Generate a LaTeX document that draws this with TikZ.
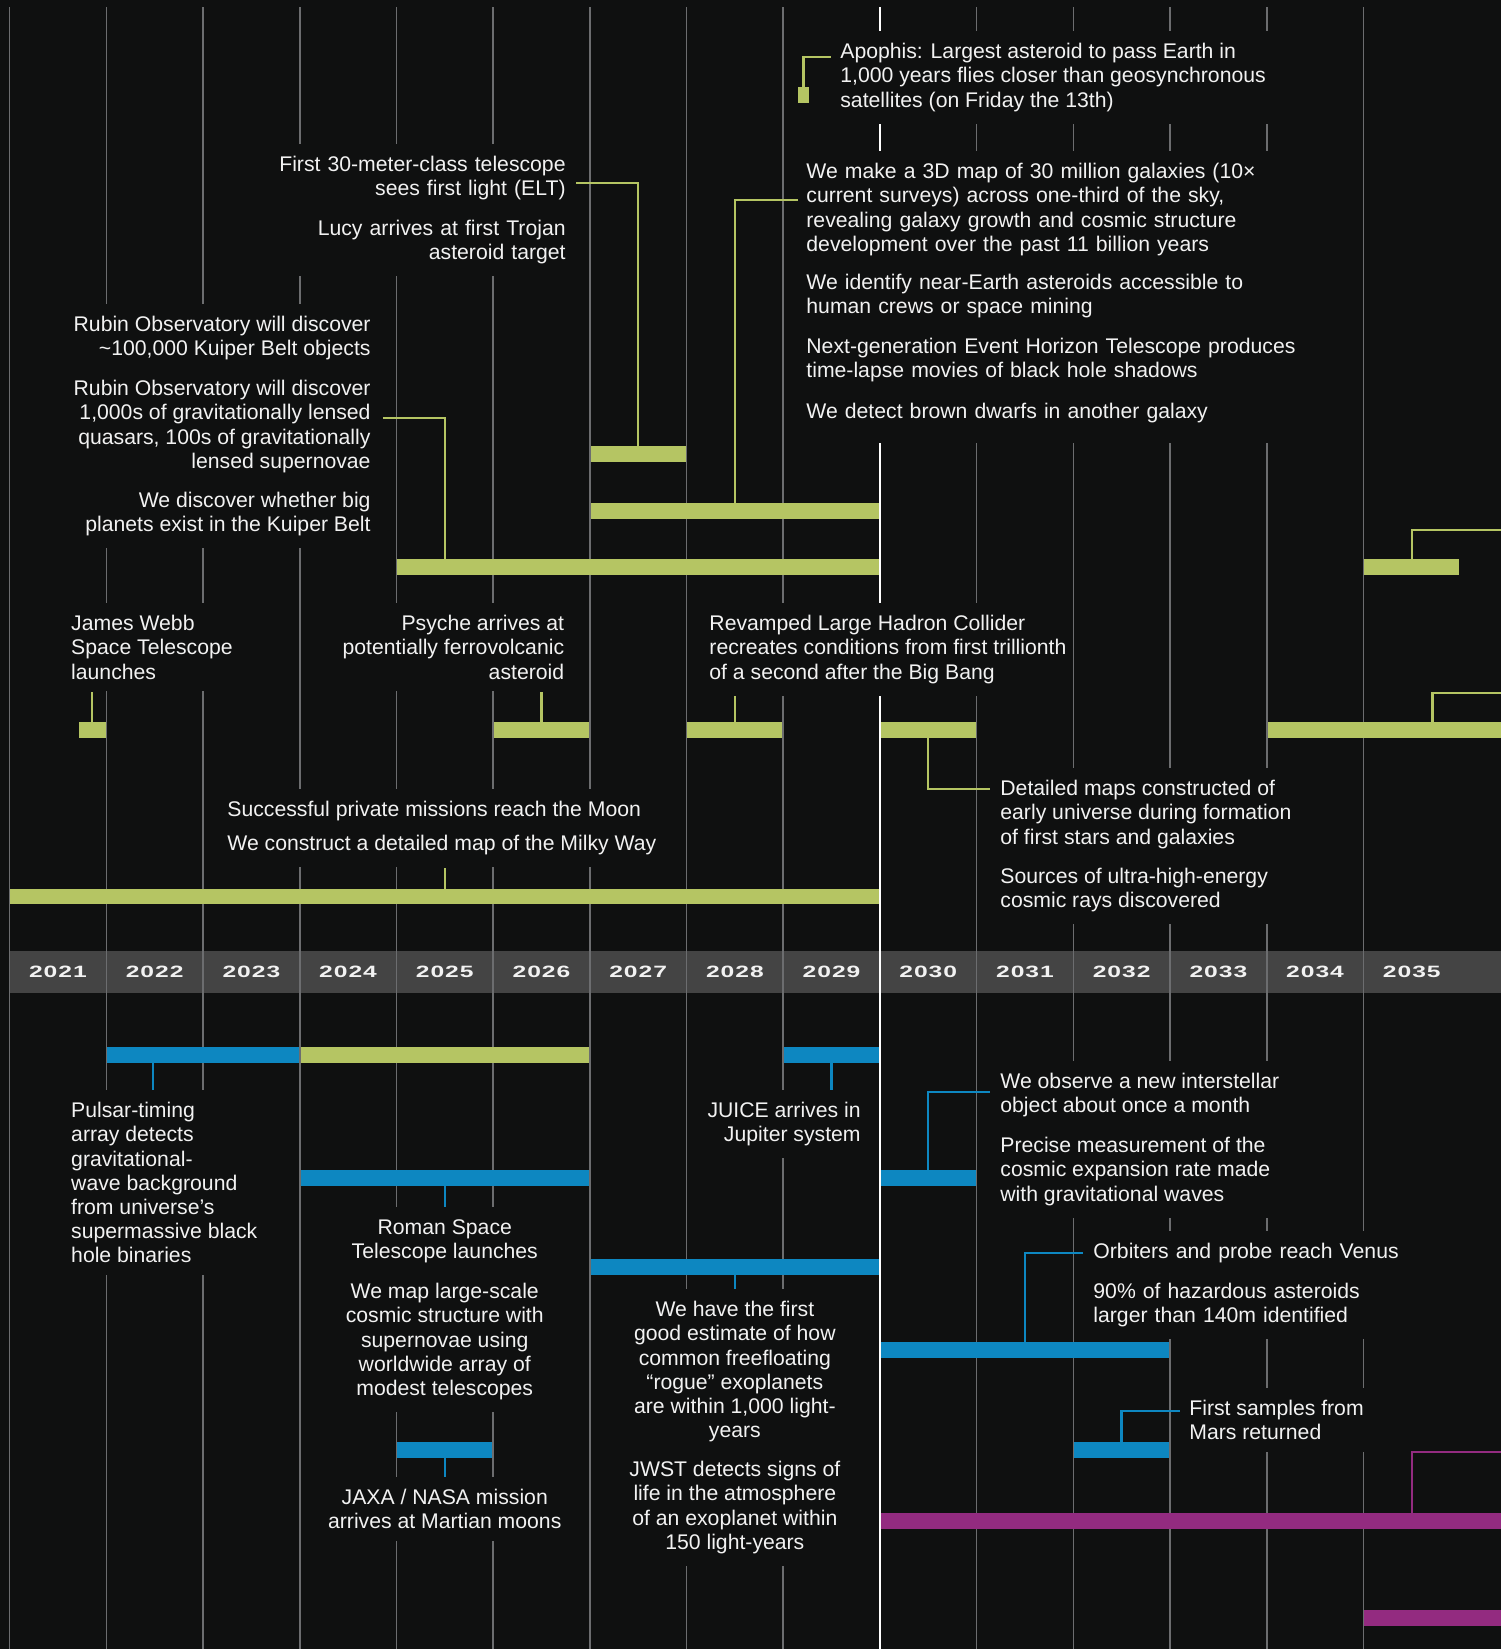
\documentclass[tikz,border=0pt]{standalone}
\usepackage{fontspec}
\setmainfont{Liberation Sans}
\newfontfamily\yearfont{Liberation Sans}[FakeStretch=1.5,LetterSpace=6]
\usepackage{tikz}
\usetikzlibrary{fit}

\definecolor{bgc}{HTML}{0F1010}
\definecolor{bandc}{HTML}{444444}
\definecolor{gridc}{HTML}{6C6D6F}
\definecolor{limec}{HTML}{B5C563}
\definecolor{bluec}{HTML}{0D87C1}
\definecolor{plumc}{HTML}{932B80}
\definecolor{inkc}{HTML}{F2F2F2}

\begin{document}
\begin{tikzpicture}[x=48.35pt,y=-0.5pt,
    txt/.style={font=\fontsize{10.6}{12.1}\selectfont, text=inkc, fill=bgc, inner xsep=3pt, inner ysep=6pt},
    yearline/.style={draw=gridc, line width=0.8pt},
    nowline/.style={draw=white, line width=1.2pt},
    yearlbl/.style={font=\yearfont\bfseries\fontsize{8.2}{10}\selectfont, text=inkc},
    lbar/.style={fill=limec, inner xsep=-0.4pt, inner ysep=0pt},
    bbar/.style={fill=bluec, inner xsep=-0.4pt, inner ysep=0pt},
    pbar/.style={fill=plumc, inner xsep=-0.4pt, inner ysep=0pt},
    glink/.style={draw=limec, line width=1.2pt},
    blink/.style={draw=bluec, line width=1.2pt},
    plink/.style={draw=plumc, line width=1.2pt},
]
\useasboundingbox[fill=bgc] (-0.0993,0) rectangle (15.4227,1649);
\fill[bandc] (0,951) rectangle (15.4227,993);
\foreach \i in {0,...,8,10,11,12,13,14}
    \draw[yearline] (\i,7) -- (\i,1649);
\draw[nowline] (9,7) -- (9,1649); % 2030 is the white one
\foreach \yr [count=\i from 0] in {2021,...,2035}
    \node[yearlbl] (y\yr) at (\i+0.5,972) {\yr};

% texts above the band (fill = bg so they cut the year lines)
\node[txt, anchor=north west, align=left] (apophis) at (8.525,31) {Apophis: Largest asteroid to pass Earth in\\1,000 years flies closer than geosynchronous\\satellites (on Friday the 13th)};
\node[txt, anchor=north east, align=right, text width=152pt] (elt) at (5.816,144) {First 30-meter-class telescope\\sees first light (ELT)};
\node[txt, anchor=north east, align=right, text width=152pt] (lucy) at (5.816,208) {Lucy arrives at first Trojan\\asteroid target};
\node[txt, anchor=north east, align=right] (kbo) at (3.799,304) {Rubin Observatory will discover\\\textasciitilde100,000 Kuiper Belt objects};
\node[txt, anchor=north east, align=right] (lensed) at (3.799,368) {Rubin Observatory will discover\\1,000s of gravitationally lensed\\quasars, 100s of gravitationally\\lensed supernovae};
\node[txt, anchor=north east, align=right] (planets) at (3.799,480) {We discover whether big\\planets exist in the Kuiper Belt};
\node[txt, anchor=north west, align=left, text width=256pt] (galmap) at (8.174,151) {We make a 3D map of 30 million galaxies (10×\\current surveys) across one-third of the sky,\\revealing galaxy growth and cosmic structure\\development over the past 11 billion years};
\node[txt, anchor=north west, align=left, text width=256pt] (nea) at (8.174,262) {We identify near-Earth asteroids accessible to\\human crews or space mining};
\node[txt, anchor=north west, align=left, text width=256pt] (eht) at (8.174,326) {Next-generation Event Horizon Telescope produces\\time-lapse movies of black hole shadows};
\node[txt, anchor=north west, align=left, text width=256pt, inner ysep=10pt] (dwarfs) at (8.174,383) {We detect brown dwarfs in another galaxy};
\node[txt, anchor=north west, align=left] (jwst) at (0.571,603) {James Webb\\Space Telescope\\launches};
\node[txt, anchor=north east, align=right] (psyche) at (5.801,603) {Psyche arrives at\\potentially ferrovolcanic\\asteroid};
\node[txt, anchor=north west, align=left] (lhc) at (7.171,603) {Revamped Large Hadron Collider\\recreates conditions from first trillionth\\of a second after the Big Bang};
\node[txt, anchor=north west, align=left] (early) at (10.180,768) {Detailed maps constructed of\\early universe during formation\\of first stars and galaxies};
\node[txt, anchor=north west, align=left] (uhecr) at (10.180,856) {Sources of ultra-high-energy\\cosmic rays discovered};
\node[txt, anchor=north west, align=left] (moon) at (2.186,789) {Successful private missions reach the Moon};
\node[txt, anchor=north west, align=left] (milky) at (2.186,823) {We construct a detailed map of the Milky Way};

% texts below the band
\node[txt, anchor=north west, align=left] (pulsar) at (0.571,1090) {Pulsar-timing\\array detects\\gravitational-\\wave background\\from universe’s\\supermassive black\\hole binaries};
\node[txt, anchor=north east, align=right] (juice) at (8.867,1090) {JUICE arrives in\\Jupiter system};
\node[txt, anchor=north west, align=left] (interstellar) at (10.180,1061) {We observe a new interstellar\\object about once a month};
\node[txt, anchor=north west, align=left] (hubble) at (10.180,1125) {Precise measurement of the\\cosmic expansion rate made\\with gravitational waves};
\node[txt, anchor=north, align=center] (roman) at (4.5,1207) {Roman Space\\Telescope launches};
\node[txt, anchor=north, align=center] (lss) at (4.5,1271) {We map large-scale\\cosmic structure with\\supernovae using\\worldwide array of\\modest telescopes};
\node[txt, anchor=north west, align=left, text width=158pt] (venus) at (11.142,1231) {Orbiters and probe reach Venus};
\node[txt, anchor=north west, align=left, text width=158pt] (neo) at (11.142,1271) {90\% of hazardous asteroids\\larger than 140m identified};
\node[txt, anchor=north, align=center] (rogue) at (7.5,1289) {We have the first\\good estimate of how\\common freefloating\\“rogue” exoplanets\\are within 1,000 light-\\years};
\node[txt, anchor=north, align=center] (biosig) at (7.5,1449) {JWST detects signs of\\life in the atmosphere\\of an exoplanet within\\150 light-years};
\node[txt, anchor=north west, align=left] (mars) at (12.134,1388) {First samples from\\Mars returned};
\node[txt, anchor=north, align=center] (jaxa) at (4.5,1477) {JAXA / NASA mission\\arrives at Martian moons};

% bars, x in years from 2021
\node[lbar, inner xsep=0pt, fit={(8.153,87) (8.267,103)}] (apbar) {};
\node[lbar, fit={(6,446) (7,462)}] (eltbar) {};
\node[lbar, fit={(6,503) (9,519)}] (galbar) {};
\node[lbar, fit={(4,559) (9,575)}] (rubinbar) {};
\node[lbar, fit={(14,559) (15,575)}] (lbar2035) {};
\node[lbar, fit={(0.707,722) (1,738)}] (jwstbar) {};
\node[lbar, fit={(5,722) (6,738)}] (psychebar) {};
\node[lbar, fit={(7,722) (8,738)}] (lhcbar) {};
\node[lbar, fit={(9,722) (10,738)}] (earlybar) {};
\node[lbar, fit={(13,722) (15.5,738)}] (lbar2034) {};
\node[lbar, fit={(0,889) (9,904)}] (milkybar) {};
\node[bbar, fit={(1,1047) (3,1063)}] (ptabar) {};
\node[lbar, fit={(3,1047) (6,1063)}] (lbar2024) {};
\node[bbar, fit={(8,1047) (9,1063)}] (juicebar) {};
\node[bbar, fit={(3,1170) (6,1186)}] (romanbar) {};
\node[bbar, fit={(9,1170) (10,1186)}] (gwbar) {};
\node[bbar, fit={(6,1259) (9,1275)}] (roguebar) {};
\node[bbar, fit={(9,1342) (12,1358)}] (venusbar) {};
\node[bbar, fit={(11,1442) (12,1458)}] (marsbar) {};
\node[bbar, fit={(4,1442) (5,1458)}] (jaxabar) {};
\node[pbar, fit={(9,1513) (15.5,1529)}] (pbar2030) {};
\node[pbar, fit={(14,1610) (15.5,1626)}] (pbar2035) {};

% off the page on the right
\coordinate (offr1) at (15.5,530);
\coordinate (offr2) at (15.5,693);
\coordinate (offr3) at (15.5,1452);
\coordinate (ptax) at (1.483,0);
\coordinate (cx2034) at (14.715,0);
\coordinate (cx2035) at (14.5,0);

% links bar <-> text
\draw[glink] (apbar.north) |- ([shift={(-1.5pt,-13pt)}]apophis.north west);
\draw[glink] ([shift={(2pt,-19.5pt)}]elt.north east) -| (eltbar.north);
\draw[glink] ([shift={(3pt,-25pt)}]lensed.north east) -| ([xshift=24pt]rubinbar.north west);
\draw[glink] ([shift={(-1pt,-24.5pt)}]galmap.north west) -| (galbar.north);
\draw[glink] (lbar2035.north) |- (offr1);
\draw[glink] (jwstbar.north) -- (jwstbar.north |- jwst.south);
\draw[glink] (psychebar.north) -- (psychebar.north |- psyche.south);
\draw[glink] (lhcbar.north) -- (lhcbar.north |- lhc.south);
\draw[glink] (earlybar.south) |- ([shift={(-2pt,-10.5pt)}]early.north west);
\draw[glink] (cx2034 |- lbar2034.north) |- (offr2);
\draw[glink] (milkybar.north) -- (milkybar.north |- milky.south);
\draw[blink] (ptax |- ptabar.south) -- (ptax |- pulsar.north);
\draw[blink] (juicebar.south) -- (juicebar.south |- juice.north);
\draw[blink] (romanbar.south) -- (roman.north);
\draw[blink] (gwbar.north) |- ([shift={(-2pt,-15.5pt)}]interstellar.north west);
\draw[blink] (roguebar.south) -- (rogue.north);
\draw[blink] (venusbar.north) |- ([shift={(-2pt,-11pt)}]venus.north west);
\draw[blink] (marsbar.north) |- ([shift={(-1.5pt,-11.5pt)}]mars.north west);
\draw[blink] (jaxabar.south) -- (jaxa.north);
\draw[plink] (cx2035 |- pbar2030.north) |- (offr3);
\end{tikzpicture}
\end{document}
